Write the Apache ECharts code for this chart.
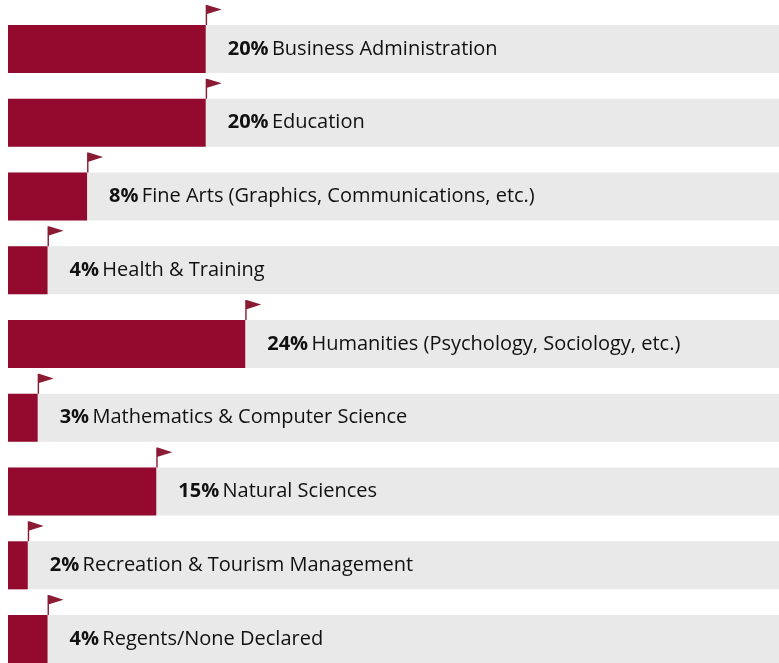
<!DOCTYPE html>
<html>
<head>
<meta charset="utf-8">
<script src="https://cdn.jsdelivr.net/npm/echarts@6/dist/echarts.min.js"></script>
<style>
    html, body { margin: 0; padding: 0; background: #fff; }
    #chart { width: 779px; height: 663px; }
</style>
</head>
<body>
<div id="chart"></div>
<script>
// majors and share of students (%)
const majors = [
    'Business Administration',
    'Education',
    'Fine Arts (Graphics, Communications, etc.)',
    'Health & Training',
    'Humanities (Psychology, Sociology, etc.)',
    'Mathematics & Computer Science',
    'Natural Sciences',
    'Recreation & Tourism Management',
    'Regents/None Declared'
]
const shares = [20, 20, 8, 4, 24, 3, 15, 2, 4]

const chart = echarts.init(document.getElementById('chart'))

// flag: thin pole plus a pennant, anchored at the pole foot
const flagPath = 'path://M0,0 L1.4,0 L16,4.6 L1.4,9.2 L1.4,20 L0,20 Z'

chart.setOption({
    animation: false,
    grid: { left: 8, right: 0, top: 12, height: 664, outerBoundsMode: 'none' },
    xAxis: {
        type: 'value',
        min: 0,
        max: 78,
        show: false
    },
    yAxis: {
        type: 'category',
        inverse: true,
        data: majors,
        show: false
    },
    series: [
        {
            type: 'bar',
            data: shares,
            barWidth: 48,
            itemStyle: { color: '#930a2e' },
            showBackground: true,
            backgroundStyle: { color: '#e9e9e9' },
            label: {
                show: true,
                position: 'right',
                distance: 22,
                formatter: p => `{b|${p.value}%} {n|${p.name}}`,
                rich: {
                    b: { fontFamily: 'Open Sans', fontSize: 20, fontWeight: 'bold', color: '#111' },
                    n: { fontFamily: 'Open Sans', fontSize: 20, color: '#111' }
                }
            }
        },
        {
            // flags planted at the end of each bar
            type: 'scatter',
            data: shares.map((v, i) => [v, i]),
            symbol: flagPath,
            symbolSize: [16, 20],
            symbolKeepAspect: false,
            symbolOffset: [8, -34],
            itemStyle: { color: '#8a1b33', opacity: 1 },
            silent: true,
            z: 3
        }
    ]
})
</script>
</body>
</html>
